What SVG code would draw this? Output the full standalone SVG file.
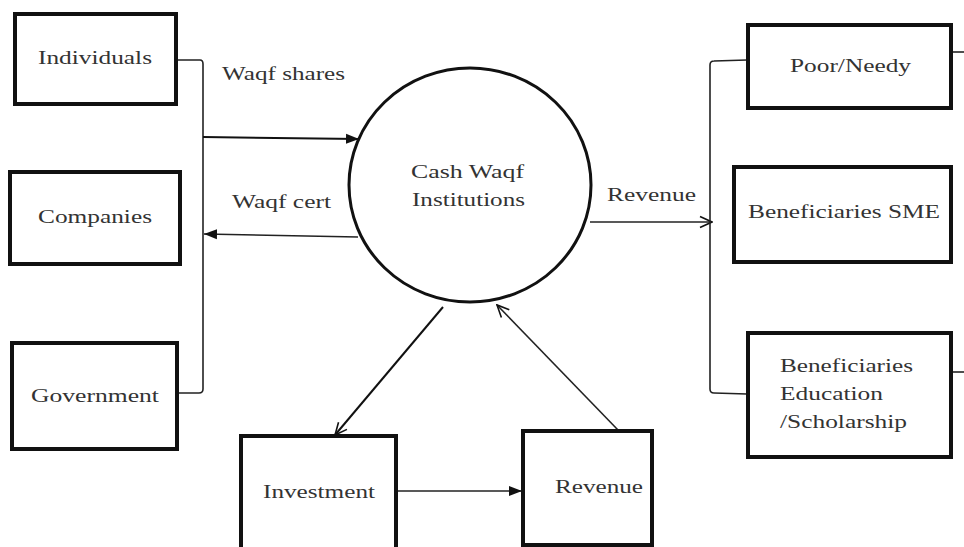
<svg xmlns="http://www.w3.org/2000/svg" width="964" height="547" viewBox="0 0 964 547" font-family="'Liberation Serif', 'Times New Roman', serif">
<defs>
<marker id="fill" markerUnits="userSpaceOnUse" markerWidth="14" markerHeight="12" viewBox="0 0 14 12" refX="13" refY="6" orient="auto">
<path d="M0,1 L13,6 L0,11 Z" fill="#111"/>
</marker>
<marker id="open" markerUnits="userSpaceOnUse" markerWidth="14" markerHeight="14" viewBox="0 0 14 14" refX="13" refY="7" orient="auto">
<path d="M1,1.5 L13,7 L1,12.5" fill="none" stroke="#111" stroke-width="1.6"/>
</marker>
</defs>
<style>
.box{fill:#fff;stroke:#111;stroke-width:4}
.t{font-family:'Liberation Serif','Times New Roman',serif;font-size:18px;fill:#333}
.c{fill:none;stroke:#222;stroke-width:1.6}
.c2{fill:none;stroke:#111;stroke-width:2}
</style>
<rect width="964" height="547" fill="#fff"/>
<g id="connectors">
<path class="c" d="M176,60 L200,60 Q203,60 203,64 L203,389 Q203,393 199,393 L177,393"/>
<line class="c2" x1="203" y1="137" x2="359" y2="139" marker-end="url(#fill)"/>
<line class="c" x1="358" y1="237" x2="204" y2="234" marker-end="url(#fill)"/>
<line class="c" x1="590" y1="222" x2="712" y2="222" marker-end="url(#open)"/>
<path class="c" d="M747,60 L714,61 Q710,61 710,65 L710,389 Q710,393 714,393 L747,394"/>
<line class="c" x1="951" y1="52" x2="964" y2="52"/>
<line class="c" x1="951" y1="372" x2="964" y2="372"/>
<line class="c2" x1="443" y1="307" x2="335" y2="435" marker-end="url(#open)"/>
<line class="c" x1="618" y1="430" x2="497" y2="305" marker-end="url(#open)"/>
<line class="c" x1="396" y1="491" x2="522" y2="491" marker-end="url(#fill)"/>
<text class="t" x="222" y="80" textLength="123" lengthAdjust="spacingAndGlyphs">Waqf shares</text>
<text class="t" x="232" y="208" textLength="99" lengthAdjust="spacingAndGlyphs">Waqf cert</text>
<text class="t" x="607" y="201" textLength="89" lengthAdjust="spacingAndGlyphs">Revenue</text>
</g>
<g id="individuals">
<rect class="box" x="15" y="14" width="161" height="90"/>
<text class="t" x="38" y="64" textLength="114" lengthAdjust="spacingAndGlyphs">Individuals</text>
</g>
<g id="companies">
<rect class="box" x="10" y="172" width="170" height="92"/>
<text class="t" x="38" y="223" textLength="114" lengthAdjust="spacingAndGlyphs">Companies</text>
</g>
<g id="government">
<rect class="box" x="12" y="343" width="165" height="106"/>
<text class="t" x="31" y="402" textLength="128" lengthAdjust="spacingAndGlyphs">Government</text>
</g>
<g id="cash-waqf">
<ellipse cx="470" cy="185" rx="121" ry="117" fill="#fff" stroke="#111" stroke-width="3"/>
<text class="t" x="411" y="178" textLength="113" lengthAdjust="spacingAndGlyphs">Cash Waqf</text>
<text class="t" x="412" y="206" textLength="113" lengthAdjust="spacingAndGlyphs">Institutions</text>
</g>
<g id="poor-needy">
<rect class="box" x="748" y="25" width="203" height="83"/>
<text class="t" x="790" y="72" textLength="121" lengthAdjust="spacingAndGlyphs">Poor/Needy</text>
</g>
<g id="sme">
<rect class="box" x="734" y="167" width="217" height="95"/>
<text class="t" x="748" y="218" textLength="192" lengthAdjust="spacingAndGlyphs">Beneficiaries SME</text>
</g>
<g id="education">
<rect class="box" x="748" y="333" width="203" height="124"/>
<text class="t" x="780" y="372" textLength="133" lengthAdjust="spacingAndGlyphs">Beneficiaries</text>
<text class="t" x="780" y="400" textLength="103" lengthAdjust="spacingAndGlyphs">Education</text>
<text class="t" x="780" y="428" textLength="127" lengthAdjust="spacingAndGlyphs">/Scholarship</text>
</g>
<g id="investment">
<rect class="box" x="241" y="436" width="155" height="120"/>
<text class="t" x="263" y="498" textLength="112" lengthAdjust="spacingAndGlyphs">Investment</text>
</g>
<g id="revenue">
<rect class="box" x="523" y="431" width="129" height="114"/>
<text class="t" x="555" y="493" textLength="88" lengthAdjust="spacingAndGlyphs">Revenue</text>
</g>
</svg>
